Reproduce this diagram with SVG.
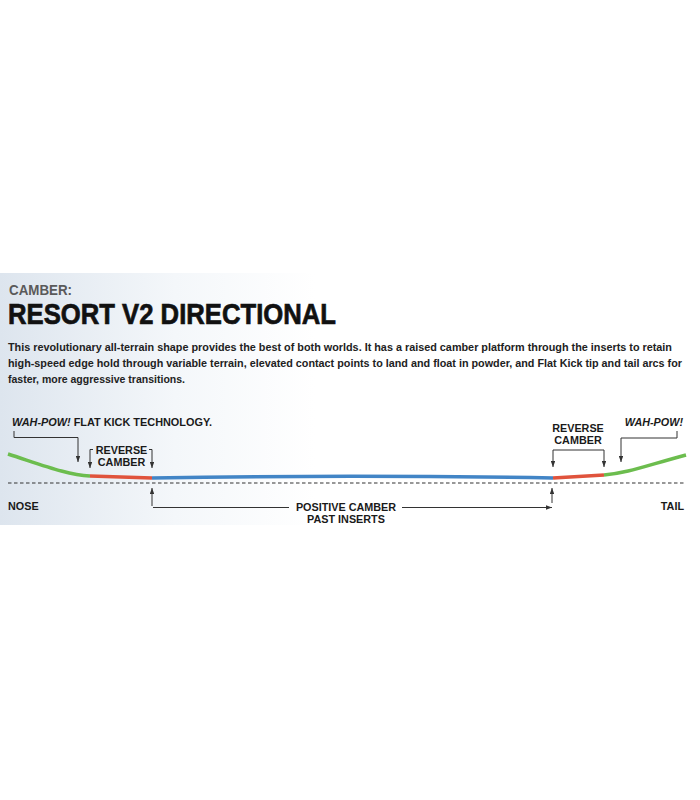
<svg xmlns="http://www.w3.org/2000/svg" width="700" height="800" viewBox="0 0 700 800">
<defs>
<linearGradient id="bg" x1="0" y1="0" x2="1" y2="0">
<stop offset="0" stop-color="#dde5ee"/>
<stop offset="0.25" stop-color="#f4f7fa"/>
<stop offset="0.45" stop-color="#ffffff"/>
</linearGradient>
<marker id="ah" viewBox="0 0 8 6" refX="8" refY="3" markerWidth="6" markerHeight="4.5" markerUnits="userSpaceOnUse" orient="auto">
<path d="M0,0 L8,3 L0,6 z" fill="#333"/>
</marker>
<style>
.lbl{font-family:"Liberation Sans",Arial,sans-serif;font-weight:bold;font-size:10.8px;fill:#1a1a1a}
.para{font-family:"Liberation Sans",Arial,sans-serif;font-weight:bold;font-size:10.6px;fill:#222}
.lead{fill:none;stroke:#333;stroke-width:1}
.board{fill:none;stroke-width:3.5;stroke-linecap:butt}
</style>
</defs>
<rect x="0" y="0" width="700" height="800" fill="#ffffff"/>
<rect x="0" y="273" width="700" height="252" fill="url(#bg)"/>

<g id="header">
<text x="9" y="295" font-family="Liberation Sans, Arial, sans-serif" font-weight="bold" font-size="14" fill="#5a5a5a" textLength="63" lengthAdjust="spacingAndGlyphs">CAMBER:</text>
<text x="8" y="323.5" font-family="Liberation Sans, Arial, sans-serif" font-weight="bold" font-size="30" fill="#111" stroke="#111" stroke-width="0.7" textLength="328" lengthAdjust="spacingAndGlyphs">RESORT V2 DIRECTIONAL</text>
<text class="para" x="8" y="351" textLength="664" lengthAdjust="spacingAndGlyphs">This revolutionary all-terrain shape provides the best of both worlds. It has a raised camber platform through the inserts to retain</text>
<text class="para" x="8" y="367" textLength="674" lengthAdjust="spacingAndGlyphs">high-speed edge hold through variable terrain, elevated contact points to land and float in powder, and Flat Kick tip and tail arcs for</text>
<text class="para" x="8" y="383" textLength="177" lengthAdjust="spacingAndGlyphs">faster, more aggressive transitions.</text>
</g>

<g id="baseline">
<line x1="8" y1="483" x2="686" y2="483" stroke="#333" stroke-width="1.2" stroke-dasharray="3.5,2.5"/>
</g>

<g id="board">
<path class="board" d="M8,454 C45,466 68,475 90,476" stroke="#6cbd4e"/>
<path class="board" d="M90,476 L152,478" stroke="#e0533c"/>
<path class="board" d="M152,478 Q350,474.5 553,478" stroke="#4285c6"/>
<path class="board" d="M553,478 L604,475" stroke="#e0533c"/>
<path class="board" d="M604,475 C628,473 645,466 686,455" stroke="#6cbd4e"/>
</g>

<g id="nose-label"><text class="lbl" x="8" y="509.5">NOSE</text></g>
<g id="tail-label"><text class="lbl" x="684" y="509.5" text-anchor="end">TAIL</text></g>

<g id="wahpow-left">
<text class="lbl" x="12" y="426" textLength="200" lengthAdjust="spacingAndGlyphs"><tspan font-style="italic">WAH-POW!</tspan> FLAT KICK TECHNOLOGY.</text>
</g>
<g id="reverse-left">
<text class="lbl" x="121.5" y="454" text-anchor="middle">REVERSE</text>
<text class="lbl" x="121.5" y="465.5" text-anchor="middle">CAMBER</text>
</g>
<g id="reverse-right">
<text class="lbl" x="578" y="432" text-anchor="middle">REVERSE</text>
<text class="lbl" x="578" y="443.5" text-anchor="middle">CAMBER</text>
</g>
<g id="wahpow-right">
<text class="lbl" x="683" y="426" text-anchor="end" font-style="italic">WAH-POW!</text>
</g>
<g id="positive-camber">
<text class="lbl" x="346" y="511" text-anchor="middle">POSITIVE CAMBER</text>
<text class="lbl" x="346" y="523" text-anchor="middle">PAST INSERTS</text>
</g>

<g id="connectors">
<path class="lead" d="M14,431 V437.5 H78 V462" marker-end="url(#ah)"/>
<path class="lead" d="M93,449.5 H90 V468" marker-end="url(#ah)"/>
<path class="lead" d="M149,449.5 H152 V468" marker-end="url(#ah)"/>
<path class="lead" d="M553,450 H604 V467" marker-end="url(#ah)"/>
<path class="lead" d="M553,450 V467" marker-end="url(#ah)"/>
<path class="lead" d="M677,431 V438 H621 V462" marker-end="url(#ah)"/>
<path class="lead" d="M152,506 V488" marker-end="url(#ah)"/>
<path class="lead" d="M289,507.5 H153"/>
<path class="lead" d="M402,507.5 H552" marker-end="url(#ah)"/>
<path class="lead" d="M552,503 V488" marker-end="url(#ah)"/>
</g>
</svg>
